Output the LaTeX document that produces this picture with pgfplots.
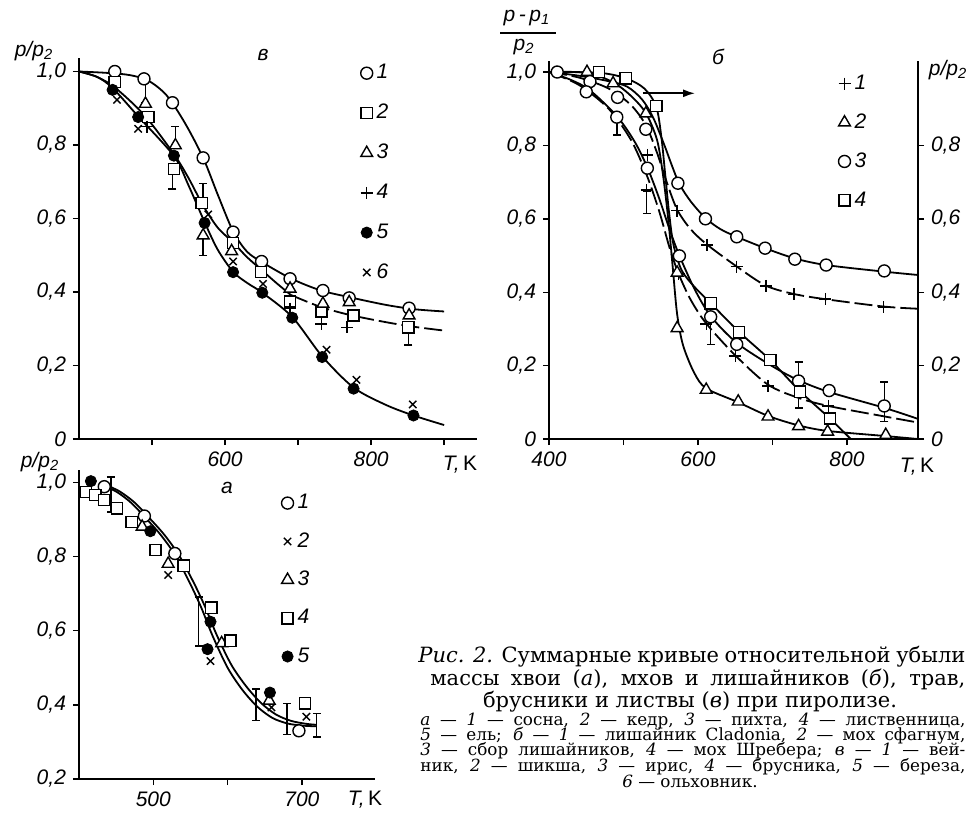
\documentclass[border=0pt]{standalone}
\usepackage{fontspec}
\setmainfont{Liberation Serif}
\setsansfont{Liberation Sans}
\newfontfamily\capfont{DejaVu Serif}
\usepackage{pgfplots}
\pgfplotsset{compat=1.18}
\usetikzlibrary{arrows.meta}

\newcommand{\tf}{\sffamily\itshape\fontsize{10.5}{12}\selectfont}

\pgfplotsset{
  panel/.style={
    scale only axis, clip=false,
    axis x line*=bottom, axis y line*=left,
    axis line style={line width=0.8pt, -},
    every tick/.style={black, line width=0.7pt},
    tick align=outside, major tick length=3pt,
    ticklabel style={font=\tf},
    legend cell align=left,
    legend style={draw=none, fill=none, font=\tf, row sep=7pt, anchor=north west},
  },
  curve/.style={black, line width=0.9pt, smooth, no marks, forget plot},
  dcurve/.style={curve, dash pattern=on 9pt off 2.5pt},
  mo/.style={black, only marks, mark=*, mark size=3pt, mark options={fill=white, line width=0.7pt}},
  msq/.style={black, only marks, mark=square*, mark size=2.8pt, mark options={fill=white, line width=0.7pt}},
  mtri/.style={black, only marks, mark=triangle*, mark size=3.4pt, mark options={fill=white, line width=0.7pt}},
  mpl/.style={black, only marks, mark=+, mark size=3pt, mark options={line width=0.7pt}},
  mcr/.style={black, only marks, mark=x, mark size=2.6pt, mark options={line width=0.7pt}},
  mfo/.style={black, only marks, mark=*, mark size=2.8pt, mark options={fill=black}},
  eb/.style={black, only marks, mark=text, text mark={}, forget plot,
    error bars/.cd, y dir=both, y explicit,
    error bar style={draw=black, line width=0.7pt, solid},
    error mark=-,
    error mark options={draw=black, line width=0.7pt, mark size=2pt, rotate=90}},
}

\begin{document}
\begin{tikzpicture}
\useasboundingbox (0,0) rectangle (487.5pt,-407pt);

% ---------------- panel v (top left)
\begin{axis}[panel, at={(39.5pt,-219.5pt)}, anchor=south west,
  width=199pt, height=190.5pt,
  xmin=400, xmax=945, ymin=0, ymax=1.0367,
  xtick={500,600,700,800,900}, xticklabels={,600,,800,},
  ytick={0,0.2,0.4,0.6,0.8,1.0}, yticklabels={0,{0,2},{0,4},{0,6},{0,8},{1,0}},
  legend style={at={(axis cs:777,1.042)}, row sep=7.15pt}]
\addplot[curve] coordinates {(400,1.0)(440,0.996)(470,0.99)(495,0.975)(520,0.935)(545,0.86)(570,0.765)(590,0.665)(611,0.565)(630,0.51)(650,0.482)(690,0.437)(730,0.405)(770,0.386)(820,0.365)(860,0.353)(900,0.347)};
\addplot[curve] coordinates {(400,1.0)(425,0.985)(450,0.955)(490,0.88)(530,0.775)(550,0.71)(570,0.635)(590,0.575)(611,0.535)(630,0.495)(650,0.46)(670,0.425)(690,0.392)};
\addplot[dcurve] coordinates {(690,0.392)(730,0.36)(770,0.338)(820,0.318)(860,0.305)(900,0.295)};
\addplot[curve] coordinates {(400,1.0)(425,0.985)(446,0.955)(481,0.878)(530,0.77)(550,0.69)(572,0.59)(590,0.515)(611,0.455)(630,0.425)(651,0.398)(692,0.332)(733,0.225)(776,0.14)(820,0.093)(858,0.064)(900,0.038)};
\addplot[eb] coordinates {(491,0.945) +- (0,0.03) (532,0.825) +- (0,0.025) (528,0.708) +- (0,0.028) (570,0.67) +- (0,0.026) (570,0.525) +- (0,0.025) (851,0.278) +- (0,0.022)};
\addplot[mo] coordinates {(449,1.0)(489,0.98)(528,0.915)(570,0.765)(611,0.563)(650,0.483)(689,0.436)(734,0.404)(770,0.384)(852,0.356)};
\addlegendentry{1}
\addplot[msq] coordinates {(449,0.971)(495,0.876)(530,0.735)(568,0.642)(611,0.533)(649,0.454)(689,0.374)(732,0.347)(776,0.336)(851,0.304)};
\addlegendentry{2}
\addplot[mtri] coordinates {(491,0.912)(532,0.799)(570,0.554)(609,0.511)(689,0.409)(734,0.368)(770,0.372)(852,0.336)};
\addlegendentry{3}
\addplot[mpl] coordinates {(493,0.85)(689,0.355)(732,0.313)(767,0.304)};
\addlegendentry{4}
\addplot[mfo] coordinates {(446,0.95)(481,0.876)(530,0.771)(572,0.588)(611,0.454)(651,0.398)(692,0.33)(733,0.223)(776,0.137)(858,0.064)};
\addlegendentry{5}
\addplot[mcr] coordinates {(452,0.923)(481,0.844)(577,0.611)(611,0.483)(652,0.422)(739,0.243)(780,0.161)(857,0.094)};
\addlegendentry{6}
\end{axis}

% ---------------- panel b (top right)
\begin{axis}[panel, at={(274.5pt,-219.5pt)}, anchor=south west,
  width=184.5pt, height=189pt,
  xmin=400, xmax=895.3, ymin=0, ymax=1.03,
  xtick={400,500,600,700,800}, xticklabels={400,,600,,800},
  ytick={0,0.2,0.4,0.6,0.8,1.0}, yticklabels={0,{0,2},{0,4},{0,6},{0,8},{1,0}},
  legend style={at={(axis cs:780,1.015)}, row sep=6.65pt}]
\addplot[curve] coordinates {(400,1.0)(440,0.99)(480,0.975)(505,0.96)(525,0.925)(540,0.875)(555,0.80)(565,0.745)(575,0.695)(590,0.648)(610,0.602)(630,0.572)(652,0.551)(690,0.520)(730,0.492)(772,0.474)(850,0.456)(895,0.447)};
\addplot[dcurve] coordinates {(400,1.0)(440,0.985)(480,0.955)(510,0.91)(530,0.855)(545,0.78)(558,0.70)(572,0.625)(590,0.572)(612,0.53)(652,0.47)(691,0.418)(729,0.395)(771,0.381)(849,0.361)(895,0.355)};
\addplot[curve] coordinates {(400,1.0)(451,0.998)(486,0.972)(510,0.935)(530,0.888)(545,0.815)(553,0.72)(560,0.60)(566,0.47)(572,0.34)(580,0.255)(595,0.18)(611,0.138)(654,0.10)(694,0.063)(735,0.037)(774,0.022)(852,0.008)(895,0.0)};
\addplot[curve] coordinates {(400,1.0)(467,0.998)(503,0.983)(528,0.955)(544,0.905)(551,0.82)(556,0.72)(561,0.62)(567,0.53)(578,0.46)(595,0.415)(617,0.37)(655,0.292)(697,0.215)(737,0.13)(777,0.056)(805,0.0)};
\addplot[curve] coordinates {(400,1.0)(430,0.978)(455,0.95)(491,0.88)(515,0.81)(532,0.74)(548,0.655)(562,0.57)(575,0.50)(595,0.41)(617,0.335)(652,0.262)(700,0.198)(735,0.16)(776,0.128)(850,0.085)(895,0.055)};
\addplot[dcurve] coordinates {(400,1.0)(440,0.965)(480,0.90)(510,0.815)(531,0.72)(548,0.62)(562,0.52)(574,0.45)(590,0.38)(611,0.315)(650,0.228)(694,0.148)(735,0.112)(775,0.09)(849,0.062)(895,0.045)};
\addplot[eb] coordinates {(491,0.853) +- (0,0.025) (531,0.645) +- (0,0.03) (617,0.29) +- (0,0.033) (735,0.185) +- (0,0.025) (735,0.105) +- (0,0.02) (850,0.123) +- (0,0.032) (850,0.063) +- (0,0.016)};
\addplot[mpl] coordinates {(532,0.774)(531,0.678)(574,0.45)(572,0.622)(612,0.529)(652,0.47)(691,0.417)(729,0.394)(771,0.382)(849,0.359)(611,0.313)(650,0.226)(694,0.144)(775,0.09)};
\addlegendentry{1}
\addplot[mtri] coordinates {(451,1.0)(486,0.969)(530,0.887)(572,0.453)(572,0.302)(611,0.134)(654,0.102)(694,0.061)(735,0.035)(774,0.020)(852,0.011)};
\addlegendentry{2}
\addplot[mo] coordinates {(411,1.0)(455,0.974)(450,0.946)(492,0.931)(491,0.877)(530,0.844)(532,0.738)(575,0.499)(573,0.697)(610,0.600)(652,0.551)(690,0.520)(730,0.490)(772,0.474)(850,0.458)(617,0.333)(652,0.258)(735,0.158)(776,0.132)(850,0.090)};
\addlegendentry{3}
\addplot[msq] coordinates {(467,1.0)(503,0.983)(544,0.907)(617,0.370)(655,0.291)(697,0.215)(737,0.129)(777,0.056)};
\addlegendentry{4}
\draw[line width=0.8pt, -{Latex[length=6pt, width=4pt]}] (axis cs:526,0.942) -- (axis cs:596,0.942);
\end{axis}
\begin{axis}[scale only axis, at={(274.5pt,-219.5pt)}, anchor=south west,
  width=184.5pt, height=189pt,
  xmin=400, xmax=895.3, ymin=0, ymax=1.03,
  axis x line=none, axis y line*=right,
  axis line style={line width=0.8pt, -},
  every tick/.style={black, line width=0.7pt},
  tick align=outside, major tick length=3pt,
  ticklabel style={font=\tf},
  ytick={0,0.2,0.4,0.6,0.8}, yticklabels={0,{0,2},{0,4},{0,6},{0,8}}]
\addplot[draw=none, forget plot] coordinates {(400,0)(895,1)};
\end{axis}

% ---------------- panel a (bottom left)
\begin{axis}[panel, at={(39.5pt,-389.5pt)}, anchor=south west,
  width=148pt, height=154.5pt,
  xmin=400, xmax=798.4, ymin=0.2, ymax=1.033,
  xtick={500,600,700}, xticklabels={500,,700},
  ytick={0.2,0.4,0.6,0.8,1.0}, yticklabels={{0,2},{0,4},{0,6},{0,8},{1,0}},
  legend style={at={(axis cs:664,0.99)}, row sep=6.4pt}]
\addplot[curve] coordinates {(430,0.993)(450,0.975)(470,0.945)(490,0.903)(510,0.858)(530,0.802)(550,0.725)(565,0.66)(580,0.585)(600,0.50)(620,0.44)(640,0.395)(660,0.365)(680,0.35)(700,0.344)(720,0.342)};
\addplot[curve] coordinates {(436,0.993)(455,0.975)(475,0.945)(495,0.903)(515,0.858)(535,0.802)(555,0.727)(570,0.663)(585,0.59)(605,0.508)(625,0.45)(645,0.405)(665,0.374)(685,0.357)(705,0.349)(720,0.346)};
\addplot[eb] coordinates {(443,0.967) +- (0,0.047) (561,0.625) +- (0,0.066) (638,0.40) +- (0,0.043) (680,0.362) +- (0,0.042) (720,0.345) +- (0,0.032)};
\addplot[mo] coordinates {(434,0.988)(488,0.909)(529,0.808)(696,0.330)};
\addlegendentry{1}
\addplot[mcr] coordinates {(520,0.750)(577,0.518)(659,0.393)(706,0.368)};
\addlegendentry{2}
\addplot[mtri] coordinates {(485,0.880)(520,0.780)(592,0.566)(656,0.411)};
\addlegendentry{3}
\addplot[msq] coordinates {(409,0.974)(422,0.966)(434,0.952)(451,0.930)(471,0.893)(503,0.817)(541,0.775)(578,0.662)(604,0.573)(704,0.404)};
\addlegendentry{4}
\addplot[mfo] coordinates {(416,1.003)(496,0.868)(577,0.624)(573,0.550)(657,0.433)};
\addlegendentry{5}
\end{axis}

% ---------------- labels
\node[font=\tf] at (17pt,-25.5pt) {p/p\textsubscript{2}};
\node[font=\tf] at (131.5pt,-27.5pt) {в};
\node[font=\tf] at (230pt,-232.5pt) {T,\,\upshape K};
\node[font=\tf] at (263.5pt,-9pt) {p\,-\,p\textsubscript{1}};
\draw[line width=0.8pt] (250pt,-16.5pt) -- (278pt,-16.5pt);
\node[font=\tf] at (262pt,-23.5pt) {p\textsubscript{2}};
\node[font=\tf] at (359pt,-28.5pt) {б};
\node[font=\tf] at (474pt,-35pt) {p/p\textsubscript{2}};
\node[font=\tf] at (458.5pt,-233.5pt) {T,\,\upshape K};
\node[font=\tf] at (20pt,-231pt) {p/p\textsubscript{2}};
\node[font=\tf] at (113.5pt,-244pt) {а};
\node[font=\tf] at (182.5pt,-400pt) {T,\,\upshape K};

% ---------------- caption
\begin{scope}[every node/.style={inner sep=0pt, anchor=base west}]
\node[font=\capfont\fontsize{10.5}{12}\selectfont] at (209pt,-331pt)
  {\makebox[273.5pt][s]{\textit{Рис. 2.} Суммарные кривые относительной убыли}};
\node[font=\capfont\fontsize{10.5}{12}\selectfont] at (215pt,-342.5pt)
  {\makebox[267.5pt][s]{массы хвои (\textit{а}), мхов и лишайников (\textit{б}), трав,}};
\node[font=\capfont\fontsize{10.5}{12}\selectfont, anchor=base] at (345pt,-353.5pt)
  {брусники и листвы (\textit{в}) при пиролизе.};
\node[font=\capfont\fontsize{8.4}{9}\selectfont] at (210pt,-362.5pt)
  {\makebox[272.5pt][s]{\textit{а} — \textit{1} — сосна, \textit{2} — кедр, \textit{3} — пихта, \textit{4} — лиственница,}};
\node[font=\capfont\fontsize{8.4}{9}\selectfont] at (210pt,-370pt)
  {\makebox[272.5pt][s]{\textit{5} — ель; \textit{б} — \textit{1} — лишайник Cladonia, \textit{2} — мох сфагнум,}};
\node[font=\capfont\fontsize{8.4}{9}\selectfont] at (210pt,-377.5pt)
  {\makebox[272.5pt][s]{\textit{3} — сбор лишайников, \textit{4} — мох Шребера; \textit{в} — \textit{1} — вей-}};
\node[font=\capfont\fontsize{8.4}{9}\selectfont] at (210pt,-385.5pt)
  {\makebox[272.5pt][s]{ник, \textit{2} — шикша, \textit{3} — ирис, \textit{4} — брусника, \textit{5} — береза,}};
\node[font=\capfont\fontsize{8.4}{9}\selectfont, anchor=base] at (345pt,-393.5pt)
  {\textit{6} — ольховник.};
\end{scope}
\end{tikzpicture}
\end{document}
